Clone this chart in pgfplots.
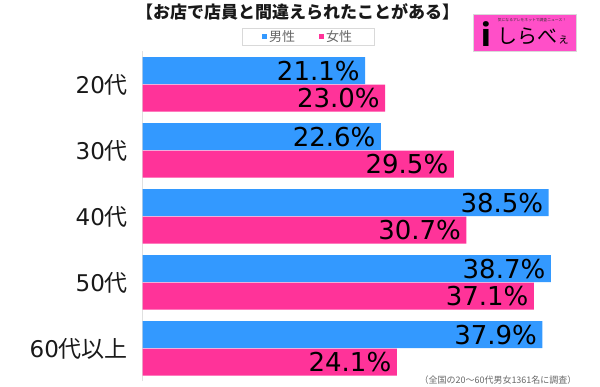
\documentclass[border=0pt]{standalone}
\usepackage{fontspec}
\setmainfont{Noto Sans CJK JP}
\newfontfamily\numfont{DejaVu Sans}
\usepackage{pgfplots}
\pgfplotsset{compat=1.18}
\definecolor{mblue}{HTML}{3399FF}
\definecolor{fpink}{HTML}{FF3399}
\definecolor{logopink}{HTML}{FF4FC8}
\begin{document}
\begin{tikzpicture}[x=1pt,y=1pt]
\useasboundingbox (0,0) rectangle (600,387);
\node[font=\bfseries\fontsize{17}{17}\selectfont, text=black!90] at (297.5,375.5) {【お店で店員と間違えられたことがある】};
% logo
\fill[logopink] (473,336) rectangle (576,373);
\draw[black!15, line width=0.3pt] (473,336) rectangle (576,373);
\node[font=\fontsize{3.8}{4}\selectfont, text=black!80] at (532,367) {気になるアレをネットで調査ニュース！};
\node[font=\bfseries\fontsize{30}{30}\selectfont, text=black] at (486,353) {i};
\node[font=\fontsize{20}{20}\selectfont, text=black, anchor=west] at (494,351) {しらべ\fontsize{12}{12}\selectfont ぇ};
\node[font=\fontsize{9}{9}\selectfont, text=black!60] at (498,7) {（全国の20～60代男女1361名に調査）};
\begin{axis}[
  at={(142.5pt,5.5pt)}, anchor=south west,
  scale only axis, width=450pt, height=330pt,
  xbar, bar width=27pt,
  xmin=0, xmax=42.65, ymin=-0.5, ymax=4.5,
  axis x line=none, axis y line=left,
  axis line style={-, draw=black!12, line width=0.8pt},
  ytick={0,1,2,3,4},
  yticklabels={{\numfont 60}代以上,{\numfont 50}代,{\numfont 40}代,{\numfont 30}代,{\numfont 20}代},
  major tick length=0pt,
  y tick label style={font=\fontsize{23}{23}\selectfont, text=black!90, xshift=-11pt},
  /pgf/number format/assume math mode=true,
  nodes near coords={\pgfmathprintnumber[fixed,precision=1,fixed zerofill]{\pgfplotspointmeta}\%},
  nodes near coords style={anchor=east, xshift=-2pt, yshift=0pt, font=\numfont\fontsize{26}{26}\selectfont, text=black},
  legend columns=2,
  legend style={at={(0.368,1.044)}, anchor=center, draw=black!15, font=\fontsize{13}{13}\selectfont, text=black!60,
    /tikz/every even column/.append style={column sep=22pt}, inner xsep=20pt, inner ysep=0.5pt},
  legend image code/.code={\fill[#1] (0pt,-2.5pt) rectangle (5pt,2.5pt);},
  clip=false,
]
\addplot[fill=mblue, draw=none, bar shift=13.75pt] coordinates {(21.1,4) (22.6,3) (38.5,2) (38.7,1) (37.9,0)};
\addplot[fill=fpink, draw=none, bar shift=-13.75pt] coordinates {(23.0,4) (29.5,3) (30.7,2) (37.1,1) (24.1,0)};
\legend{男性,女性}
\end{axis}
\end{tikzpicture}
\end{document}
